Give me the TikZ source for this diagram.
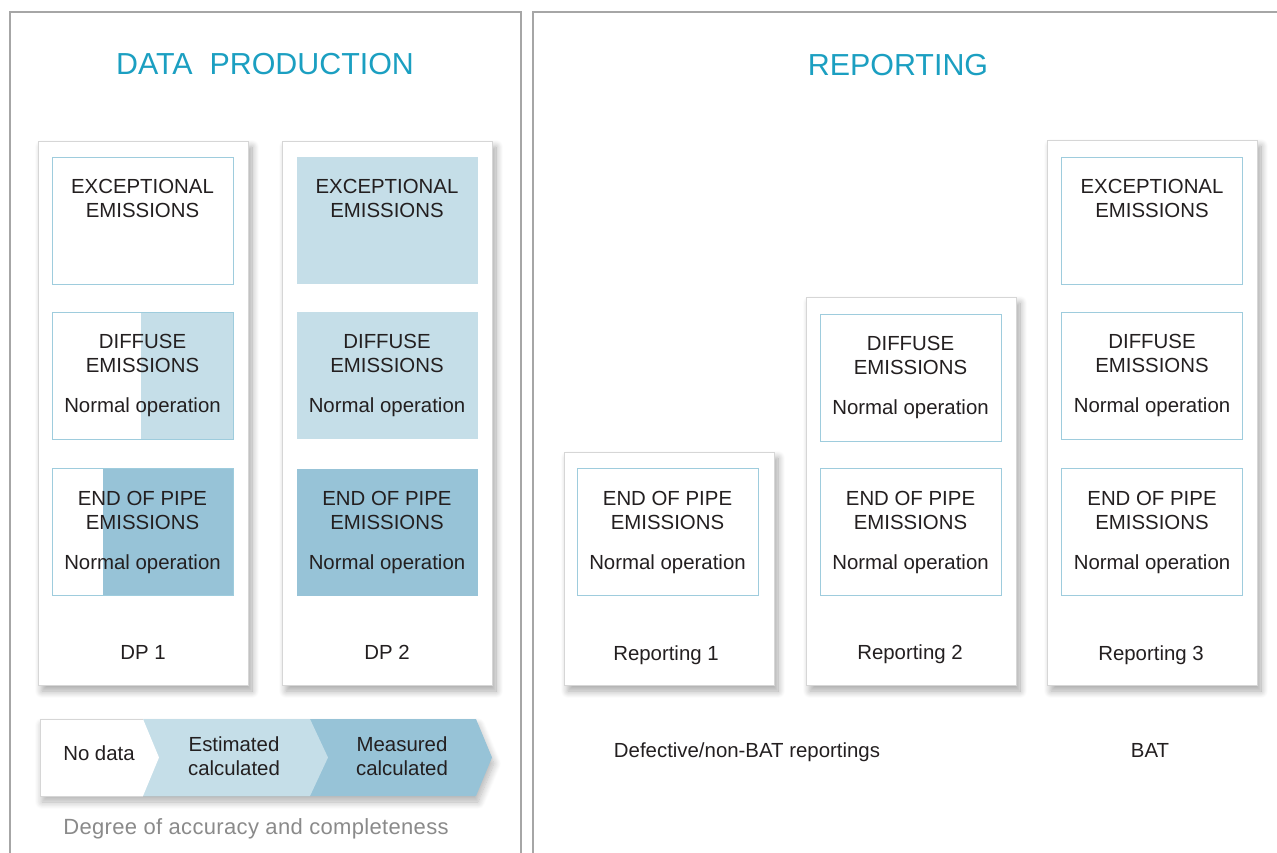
\documentclass[tikz,border=0pt]{standalone}
\usepackage{fontspec}
\setmainfont{Liberation Sans}
\usetikzlibrary{shadows.blur}

\definecolor{ink}{HTML}{231F20}
\definecolor{titleblue}{HTML}{1B9FC1}
\definecolor{edgeblue}{HTML}{9ECCDD}
\definecolor{paleblue}{HTML}{C5DEE8}
\definecolor{deepblue}{HTML}{97C3D7}
\definecolor{cardgray}{HTML}{D6D6D6}
\definecolor{framegray}{HTML}{A6A6A6}
\definecolor{notegray}{HTML}{8A8A8A}

\begin{document}
\begin{tikzpicture}[x=1pt,y=-1pt,
	every node/.style={text=ink, font=\fontsize{20.4}{24}\selectfont},
	frame/.style={draw=framegray, line width=1.4pt},
	title/.style={text=titleblue, font=\fontsize{30.4}{36}\selectfont},
	card/.style={draw=cardgray, fill=white, line width=0.8pt, minimum width=210pt, inner sep=0pt,
		blur shadow={shadow xshift=4pt, shadow yshift=-6pt, shadow blur radius=7pt, shadow blur steps=12, shadow opacity=35}},
	embox/.style={draw=edgeblue, line width=1pt, minimum width=181pt, minimum height=127pt, inner sep=0pt, align=center,
		execute at begin node=\rule{0pt}{19pt}},
	partfill/.style 2 args={path picture={\fill[#1] ([xshift=#2]path picture bounding box.south west) rectangle (path picture bounding box.north east);}}]
	\useasboundingbox (0,0) rectangle (1277,852);
	\clip (0,0) rectangle (1277,852);

%	panels
	\draw[frame] (10,870) -- (10,12) -- (521,12) -- (521,870);
	\draw[frame] (533,870) -- (533,12) -- (1290,12);
	\node[title] (dptitle) at (265,64) {DATA\ \ PRODUCTION};
	\node[title] (reptitle) at (898,65) {REPORTING};

%	data production
	\node[card, minimum height=544pt] (dp1) at (143,413) {};
	\node[card, minimum height=544pt] (dp2) at (387,413) {};

	\node[embox] (dp1exc) at (142.5,220.5) {EXCEPTIONAL\\EMISSIONS\\[16pt]\phantom{Normal operation}};
	\node[embox, partfill={paleblue}{89pt}] (dp1dif) at (142.5,375.5) {DIFFUSE\\EMISSIONS\\[16pt]Normal operation};
	\node[embox, partfill={deepblue}{51pt}] (dp1end) at (142.5,532) {END OF PIPE\\EMISSIONS\\[16pt]Normal operation};
	\node[anchor=base] (dp1lbl) at (143,659) {DP 1};

	\node[embox, draw=none, fill=paleblue] (dp2exc) at (387,220.5) {EXCEPTIONAL\\EMISSIONS\\[16pt]\phantom{Normal operation}};
	\node[embox, draw=none, fill=paleblue] (dp2dif) at (387,375.5) {DIFFUSE\\EMISSIONS\\[16pt]Normal operation};
	\node[embox, draw=none, fill=deepblue] (dp2end) at (387,532) {END OF PIPE\\EMISSIONS\\[16pt]Normal operation};
	\node[anchor=base] (dp2lbl) at (387,659) {DP 2};

%	legend
	\fill[deepblue, blur shadow={shadow xshift=2pt, shadow yshift=-6pt, shadow blur radius=7pt, shadow blur steps=12, shadow opacity=30}]
		(40,719) -- (476,719) -- (492,757.5) -- (476,796) -- (40,796) -- cycle;
	\fill[paleblue] (40,719) -- (310,719) -- (328,757.5) -- (310,796) -- (40,796) -- cycle;
	\fill[white] (40,719) -- (143,719) -- (159,757.5) -- (143,796) -- (40,796) -- cycle;
	\draw[cardgray, line width=0.8pt] (143,719) -- (40,719) -- (40,796) -- (143,796);
	\node (nodata) at (99,753) {No data};
	\node[align=center] (estim) at (234,756) {Estimated\\calculated};
	\node[align=center] (meas) at (402,756) {Measured\\calculated};
	\node[text=notegray, font=\fontsize{22}{26}\selectfont\addfontfeature{LetterSpace=1.5}] (accuracy) at (256,829) {Degree of accuracy and completeness};

%	reporting
	\node[card, minimum height=233pt] (rep1) at (669,568.5) {};
	\node[card, minimum height=388pt] (rep2) at (911,491) {};
	\node[card, minimum height=545pt] (rep3) at (1152,412.5) {};

	\node[embox] (rep1end) at (667.5,532) {END OF PIPE\\EMISSIONS\\[16pt]Normal operation};
	\node[anchor=base] (rep1lbl) at (666,660) {Reporting 1};

	\node[embox] (rep2dif) at (910.5,377.5) {DIFFUSE\\EMISSIONS\\[16pt]Normal operation};
	\node[embox] (rep2end) at (910.5,532) {END OF PIPE\\EMISSIONS\\[16pt]Normal operation};
	\node[anchor=base] (rep2lbl) at (910,659) {Reporting 2};

	\node[embox] (rep3exc) at (1152,220.5) {EXCEPTIONAL\\EMISSIONS\\[16pt]\phantom{Normal operation}};
	\node[embox] (rep3dif) at (1152,375.5) {DIFFUSE\\EMISSIONS\\[16pt]Normal operation};
	\node[embox] (rep3end) at (1152,532) {END OF PIPE\\EMISSIONS\\[16pt]Normal operation};
	\node[anchor=base] (rep3lbl) at (1151,660) {Reporting 3};

	\node (nonbat) at (747,752) {Defective/non-BAT reportings};
	\node (bat) at (1150,750) {BAT};
\end{tikzpicture}
\end{document}
